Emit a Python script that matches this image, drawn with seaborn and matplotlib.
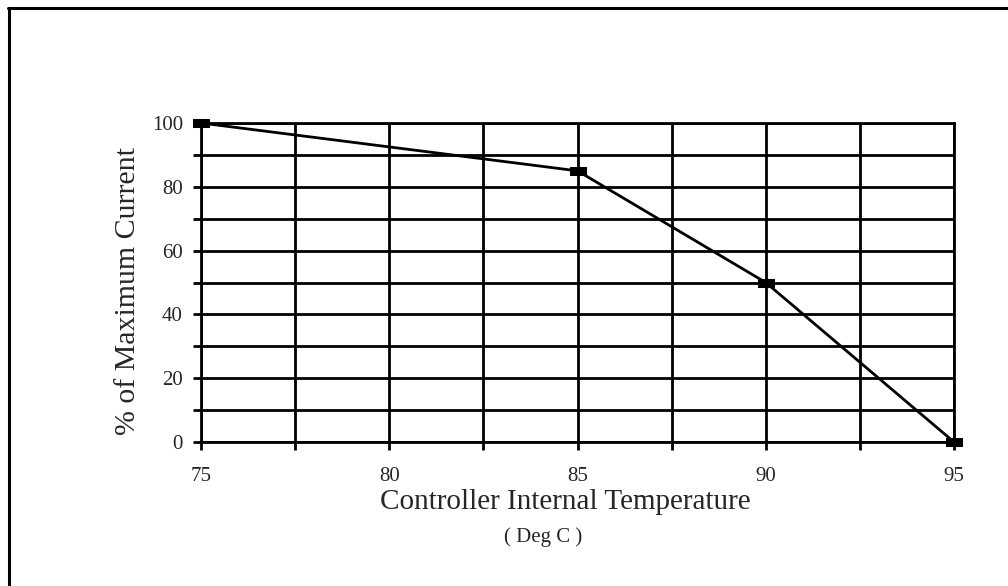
import matplotlib
matplotlib.use("Agg")
import matplotlib.pyplot as plt
from matplotlib.lines import Line2D
import numpy as np
import pandas as pd
import seaborn as sns

temps = [75, 85, 90, 95]
current_pct = [100, 85, 50, 0]
x_ticks = [75, 80, 85, 90, 95]
y_ticks = [0, 20, 40, 60, 80, 100]

sns.set_style("white")
plt.rcParams['font.family'] = ['Liberation Serif', 'DejaVu Serif']

df = pd.DataFrame({"temp": temps, "pct": current_pct})

fig = plt.figure(figsize=(10.08, 5.86), dpi=100)
ax = fig.add_axes([201/1008, 1 - 442/586, 753/1008, 319/586])

rect = [(-1, -0.55), (1, -0.55), (1, 0.55), (-1, 0.55), (-1, -0.55)]
sns.lineplot(data=df, x="temp", y="pct", ax=ax, color="black", linewidth=2,
             marker=rect, markersize=11.5, markeredgecolor="black",
             markerfacecolor="black", clip_on=False, zorder=5)

ax.set_xlim(75, 95)
ax.set_ylim(0, 100)
ax.set_xticks(x_ticks)
ax.set_yticks(y_ticks)
ax.set_xticks(np.arange(75, 95.01, 2.5), minor=True)
ax.set_yticks(np.arange(0, 100.01, 10), minor=True)
ax.set_xticklabels([str(t) for t in x_ticks])
ax.set_yticklabels([str(t) for t in y_ticks])
ax.grid(True, which="both", color="black", linewidth=2)
ax.set_axisbelow(True)
for s in ax.spines.values():
    s.set_color("black")
    s.set_linewidth(2)
ax.tick_params(axis="both", which="both", direction="out", length=6, width=2,
               color="black", labelsize=15, left=True, bottom=True)
ax.tick_params(axis="x", which="major", pad=12)
ax.tick_params(axis="y", which="major", pad=7)

ax.set_xlabel("")
ax.set_ylabel("")
fig.text(128/1008, 1 - 291/586, "% of Maximum Current", fontsize=21.5,
         rotation=90, ha="center", va="center")
fig.text(565/1008, 1 - 502/586, "Controller Internal Temperature", fontsize=21,
         ha="center", va="center")
fig.text(543/1008, 1 - 537/586, "( Deg C )", fontsize=15, ha="center", va="center")

fig.add_artist(Line2D([9/1008, 9/1008], [1 - 7.5/586, -0.1], color="black", linewidth=2.2,
                      transform=fig.transFigure))
fig.add_artist(Line2D([8/1008, 1.1], [1 - 7.5/586, 1 - 7.5/586], color="black", linewidth=2.2,
                      transform=fig.transFigure))

fig.savefig("out.png", dpi=100)
